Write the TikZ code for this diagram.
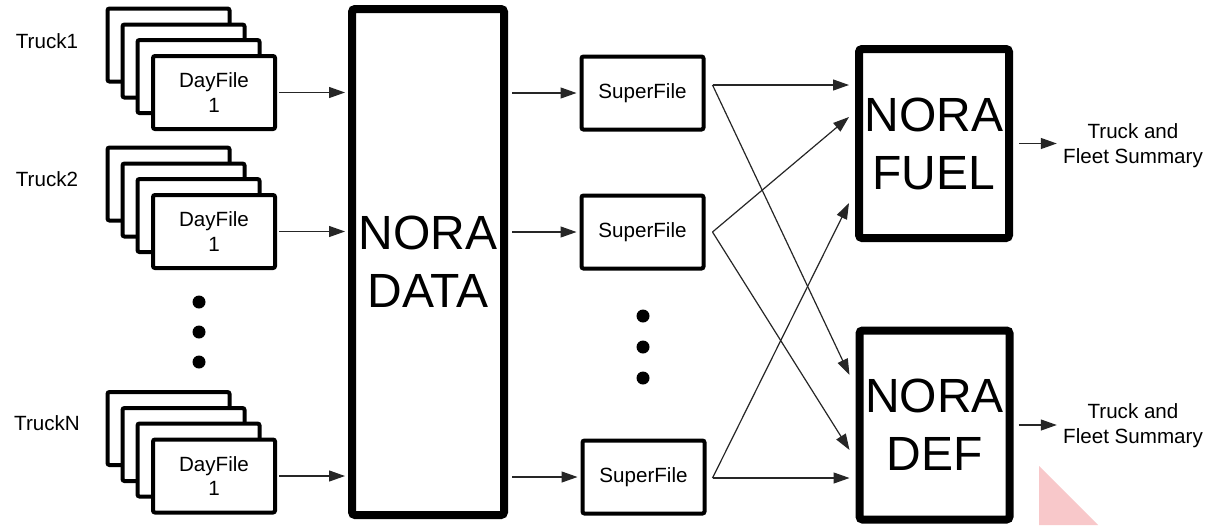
\documentclass[tikz,border=0pt]{standalone}
\usepackage{fontspec}
\setmainfont{Liberation Sans}
\usetikzlibrary{arrows.meta,calc}
\definecolor{wmpink}{RGB}{248,200,202}
\begin{document}
\begin{tikzpicture}[x=0.5pt,y=-0.5pt,
  smalltext/.style={font=\fontsize{10.3}{12.3}\selectfont},
  sheet/.style={draw, line width=2pt, fill=white, rounded corners=1pt,
    minimum width=61pt, minimum height=36.5pt, inner sep=0pt,
    align=center, smalltext},
  sfbox/.style={sheet},
  bigbox/.style={draw, line width=4pt, fill=white, rounded corners=1.5pt,
    inner sep=0pt, align=center,
    font=\fontsize{24}{29}\selectfont},
  lbl/.style={inner sep=0pt, align=center, smalltext},
  dotmark/.style={circle, fill=black, inner sep=0pt, minimum size=6.5pt},
  conn/.style={draw=black!85, line width=0.6pt,
    -{Triangle[length=8pt,width=5.5pt]}}
]
% canvas
\fill[white] (0,0) rectangle (1214,525);
\useasboundingbox (0,0) rectangle (1214,525);

% central processing stage
\node[bigbox, minimum width=76pt, minimum height=253pt] (data) at (428,262) {NORA\\DATA};

% analysis stages
\node[bigbox, minimum width=75pt, minimum height=94.5pt] (fuel) at (934,143.5) {NORA\\FUEL};
\node[bigbox, minimum width=75pt, minimum height=94.5pt] (def) at (934.5,425) {NORA\\DEF};

% per-truck stacks of day files
\foreach \k/\cy/\lab/\ly in {1/92.5/Truck1/41, 2/231.5/Truck2/179, N/476/TruckN/423}{
  \node[sheet] (t\k-s1) at (168.5,\cy-47.5) {};
  \node[sheet] (t\k-s2) at (183.5,\cy-31.5) {};
  \node[sheet] (t\k-s3) at (198.5,\cy-16) {};
  \node[sheet] (t\k) at (214,\cy) {DayFile\\1};
  \node[lbl] (t\k-l) at (47,\ly) {\lab};
  \draw[conn, shorten <=1pt, shorten >=1.5pt] (t\k.east) -- (t\k.east -| data.west);
}

% ellipsis between truck stacks
\node[dotmark] (ld1) at (199,302) {};
\node[dotmark] (ld2) at (199,332) {};
\node[dotmark] (ld3) at (199,362) {};

% super files
\node[sfbox] (sf1) at (642.5,93) {SuperFile};
\node[sfbox] (sf2) at (642.5,232) {SuperFile};
\node[sfbox] (sf3) at (643.5,477) {SuperFile};
\foreach \s in {sf1,sf2,sf3}{
  \draw[conn, shorten <=2pt, shorten >=1.5pt] (\s.west -| data.east) -- (\s.west);
}

% ellipsis between super files
\node[dotmark] (md1) at (643,316) {};
\node[dotmark] (md2) at (643,347) {};
\node[dotmark] (md3) at (643,378) {};

% fan-out origins
\coordinate (o1) at ($(sf1.east)+(7,-8)$);
\coordinate (o2) at ($(sf2.east)+(7,0)$);
\coordinate (o3) at ($(sf3.east)+(6,1)$);

% entry points on the analysis stages
\coordinate (fa) at ($(fuel.west)+(-6,-58.5)$);
\coordinate (fb) at ($(fuel.west)+(-6,-26.5)$);
\coordinate (fc) at ($(fuel.west)+(-6,59.5)$);
\coordinate (da) at ($(def.west)+(-6,-50)$);
\coordinate (db) at ($(def.west)+(-6,25)$);
\coordinate (dc) at ($(def.west)+(-6,53)$);

\draw[conn] (o1) -- (fa);
\draw[conn] (o1) -- (da);
\draw[conn] (o2) -- (fb);
\draw[conn] (o2) -- (db);
\draw[conn] (o3) -- (fc);
\draw[conn] (o3) -- (dc);

% outputs
\node[lbl] (sum1) at (1133,145.5) {Truck and\\Fleet Summary};
\node[lbl] (sum2) at (1133,425.5) {Truck and\\Fleet Summary};
\draw[conn, shorten <=3pt, shorten >=3pt] (fuel.east) -- (fuel.east -| sum1.west);
\draw[conn, shorten <=2.5pt, shorten >=3pt] (def.east) -- (def.east -| sum2.west);

% corner mark
\fill[wmpink] (1039,466) -- (1039,525) -- (1098,525) -- cycle;
\end{tikzpicture}
\end{document}
